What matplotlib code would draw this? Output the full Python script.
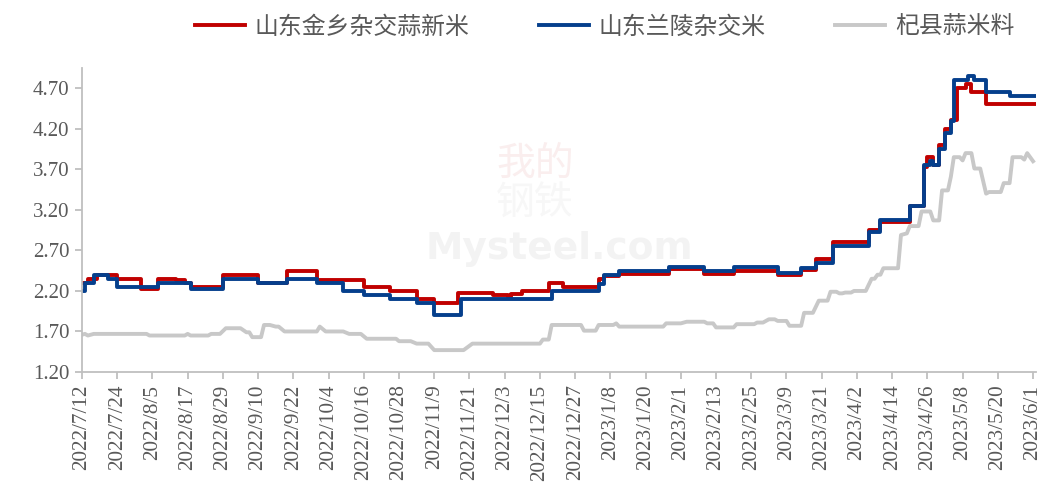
import numpy as np
import pandas as pd
import matplotlib
matplotlib.use("Agg")
import matplotlib.pyplot as plt

# 山东金乡杂交蒜新米 (change points, step)
red_dates = ["2022-07-12", "2022-07-14", "2022-07-17", "2022-07-24", "2022-08-01", "2022-08-07",
             "2022-08-13", "2022-08-16", "2022-08-18", "2022-08-29", "2022-09-10", "2022-09-20",
             "2022-09-30", "2022-10-16", "2022-10-25", "2022-11-03", "2022-11-09", "2022-11-17",
             "2022-11-29", "2022-12-04", "2022-12-05", "2022-12-09", "2022-12-18", "2022-12-23",
             "2023-01-04", "2023-01-06", "2023-01-11", "2023-01-28", "2023-02-09", "2023-02-19",
             "2023-03-06", "2023-03-14", "2023-03-19", "2023-03-25", "2023-04-06", "2023-04-10",
             "2023-04-20", "2023-04-25", "2023-04-26", "2023-04-28", "2023-04-30", "2023-05-02",
             "2023-05-04", "2023-05-06", "2023-05-09", "2023-05-11", "2023-05-16", "2023-06-02"]
red_vals = [2.30, 2.35, 2.40, 2.35, 2.23, 2.35,
            2.33, 2.30, 2.25, 2.40, 2.30, 2.45,
            2.34, 2.25, 2.20, 2.10, 2.05, 2.18,
            2.15, 2.13, 2.16, 2.20, 2.30, 2.25,
            2.35, 2.38, 2.41, 2.47, 2.41, 2.45,
            2.40, 2.46, 2.60, 2.80, 2.95, 3.05,
            3.25, 3.73, 3.85, 3.75, 4.00, 4.20,
            4.31, 4.70, 4.75, 4.65, 4.50, 4.50]

# 山东兰陵杂交米 (change points, step)
blue_dates = ["2022-07-12", "2022-07-13", "2022-07-16", "2022-07-21", "2022-07-24", "2022-08-07",
              "2022-08-18", "2022-08-29", "2022-09-10", "2022-09-20", "2022-09-30", "2022-10-09",
              "2022-10-16", "2022-10-25", "2022-11-03", "2022-11-09", "2022-11-18", "2022-12-19",
              "2023-01-04", "2023-01-06", "2023-01-11", "2023-01-28", "2023-02-09", "2023-02-19",
              "2023-03-06", "2023-03-14", "2023-03-19", "2023-03-25", "2023-04-06", "2023-04-10",
              "2023-04-20", "2023-04-25", "2023-04-27", "2023-04-28", "2023-04-30", "2023-05-02",
              "2023-05-04", "2023-05-05", "2023-05-10", "2023-05-12", "2023-05-16", "2023-05-24",
              "2023-06-02"]
blue_vals = [2.20, 2.30, 2.40, 2.35, 2.25, 2.30,
             2.23, 2.35, 2.30, 2.35, 2.30, 2.20,
             2.15, 2.10, 2.05, 1.90, 2.10, 2.20,
             2.28, 2.40, 2.44, 2.50, 2.44, 2.50,
             2.42, 2.48, 2.55, 2.75, 2.93, 3.08,
             3.25, 3.75, 3.80, 3.75, 3.95, 4.15,
             4.30, 4.80, 4.85, 4.80, 4.65, 4.60,
             4.60]

# 杞县蒜米料
gray_dates = ["2022-07-12", "2022-07-13", "2022-07-14", "2022-07-16", "2022-08-03", "2022-08-04",
              "2022-08-16", "2022-08-17", "2022-08-18", "2022-08-24", "2022-08-25", "2022-08-28",
              "2022-08-30", "2022-09-04", "2022-09-06", "2022-09-07", "2022-09-08", "2022-09-11",
              "2022-09-12", "2022-09-14", "2022-09-16", "2022-09-17", "2022-09-19", "2022-09-30",
              "2022-10-01", "2022-10-03", "2022-10-09", "2022-10-11", "2022-10-15", "2022-10-17",
              "2022-10-27", "2022-10-28", "2022-11-01", "2022-11-03", "2022-11-07", "2022-11-09",
              "2022-11-19", "2022-11-22", "2022-12-15", "2022-12-16", "2022-12-18", "2022-12-19",
              "2022-12-29", "2022-12-30", "2023-01-03", "2023-01-04", "2023-01-09", "2023-01-10",
              "2023-01-11", "2023-01-26", "2023-01-27", "2023-02-01", "2023-02-03", "2023-02-09",
              "2023-02-10", "2023-02-12", "2023-02-13", "2023-02-19", "2023-02-20", "2023-02-26",
              "2023-02-27", "2023-03-01", "2023-03-03", "2023-03-05", "2023-03-06", "2023-03-09",
              "2023-03-10", "2023-03-14", "2023-03-15", "2023-03-18", "2023-03-20", "2023-03-23",
              "2023-03-24", "2023-03-26", "2023-03-27", "2023-03-28", "2023-03-29", "2023-03-31",
              "2023-04-01", "2023-04-05", "2023-04-07", "2023-04-08", "2023-04-09", "2023-04-10",
              "2023-04-11", "2023-04-16", "2023-04-17", "2023-04-19", "2023-04-20", "2023-04-23",
              "2023-04-24", "2023-04-27", "2023-04-28", "2023-04-30", "2023-05-01", "2023-05-03",
              "2023-05-04", "2023-05-05", "2023-05-07", "2023-05-08", "2023-05-09", "2023-05-11",
              "2023-05-12", "2023-05-14", "2023-05-16", "2023-05-17", "2023-05-21", "2023-05-22",
              "2023-05-24", "2023-05-25", "2023-05-28", "2023-05-29", "2023-05-30", "2023-05-31",
              "2023-06-01"]
gray_vals = [1.66, 1.67, 1.65, 1.67, 1.67, 1.65,
             1.65, 1.67, 1.65, 1.65, 1.67, 1.67,
             1.74, 1.74, 1.69, 1.69, 1.63, 1.63,
             1.78, 1.78, 1.76, 1.76, 1.70, 1.70,
             1.76, 1.70, 1.70, 1.67, 1.67, 1.61,
             1.61, 1.58, 1.58, 1.55, 1.55, 1.47,
             1.47, 1.55, 1.55, 1.60, 1.60, 1.78,
             1.78, 1.71, 1.71, 1.78, 1.78, 1.80,
             1.76, 1.76, 1.80, 1.80, 1.82, 1.82,
             1.80, 1.80, 1.75, 1.75, 1.79, 1.79,
             1.81, 1.81, 1.85, 1.85, 1.83, 1.83,
             1.77, 1.77, 1.93, 1.93, 2.08, 2.08,
             2.19, 2.19, 2.17, 2.17, 2.18, 2.18,
             2.20, 2.20, 2.35, 2.35, 2.40, 2.40,
             2.48, 2.48, 2.89, 2.91, 3.00, 3.00,
             3.18, 3.18, 3.07, 3.07, 3.44, 3.44,
             3.61, 3.85, 3.85, 3.81, 3.90, 3.90,
             3.71, 3.71, 3.40, 3.42, 3.42, 3.53,
             3.53, 3.85, 3.85, 3.82, 3.90, 3.85,
             3.80]

series_names = ["山东金乡杂交蒜新米", "山东兰陵杂交米", "杞县蒜米料"]
y_ticks = [1.20, 1.70, 2.20, 2.70, 3.20, 3.70, 4.20, 4.70]

tick_dates = pd.date_range("2022-07-12", "2023-06-01", freq="12D")

W, H = 1047, 493
fig = plt.figure(figsize=(W / 100, H / 100), dpi=100)
ax = fig.add_axes([82 / W, 1 - 372 / H, (1036 - 82) / W, (372 - 68) / H])

txt_col = "#595959"
axis_col = "#bfbfbf"

# watermark (drawn first, under the lines)
ax.text(0.475, 0.685, "我的", transform=ax.transAxes, ha="center", va="center",
        fontsize=28, color="#faeeee", family=["Noto Sans CJK SC"], zorder=0)
ax.text(0.475, 0.555, "钢铁", transform=ax.transAxes, ha="center", va="center",
        fontsize=28, color="#f7f7f7", family=["Noto Sans CJK SC"], zorder=0)
ax.text(0.50, 0.405, "Mysteel.com", transform=ax.transAxes, ha="center", va="center",
        fontsize=27, color="#f3f3f3", fontweight="bold", family="DejaVu Sans", zorder=0)

ax.plot(pd.to_datetime(gray_dates), gray_vals, color="#c8c8c8", lw=2.8, label=series_names[2],
        solid_joinstyle="round")
ax.plot(pd.to_datetime(red_dates), red_vals, color="#c00000", lw=2.8, drawstyle="steps-post",
        label=series_names[0])
ax.plot(pd.to_datetime(blue_dates), blue_vals, color="#053f8c", lw=2.8, drawstyle="steps-post",
        label=series_names[1])

ax.set_xlim(pd.Timestamp("2022-07-12"), pd.Timestamp("2023-06-02"))
ax.set_ylim(1.20, 4.95)
ax.set_xticks(tick_dates)
ax.set_xticklabels([f"{d.year}/{d.month}/{d.day}" for d in tick_dates], rotation=90,
                   fontfamily="Liberation Serif", fontsize=15.3, color=txt_col)
ax.set_yticks(y_ticks)
ax.set_yticklabels([f"{v:.2f}" for v in y_ticks], fontfamily="Liberation Serif",
                   fontsize=15, color=txt_col)

for s in ["top", "right"]:
    ax.spines[s].set_visible(False)
for s in ["left", "bottom"]:
    ax.spines[s].set_color(axis_col)
    ax.spines[s].set_linewidth(1.3)
ax.tick_params(axis="x", length=5, width=1.3, color=axis_col, pad=4)
ax.tick_params(axis="y", length=5, width=1.3, color=axis_col, pad=4)

handles, labels = ax.get_legend_handles_labels()
order = [1, 2, 0]
leg = fig.legend([handles[i] for i in order], [labels[i] for i in order],
                 loc="center left", bbox_to_anchor=(195 / W, 1 - 27 / H), ncol=3,
                 frameon=False, borderpad=0, borderaxespad=0, handlelength=2.1,
                 handletextpad=0.4, columnspacing=2.9,
                 prop={"family": ["Noto Sans CJK SC"], "size": 17.2})
for t in leg.get_texts():
    t.set_color(txt_col)

fig.savefig("out.png", dpi=100)
